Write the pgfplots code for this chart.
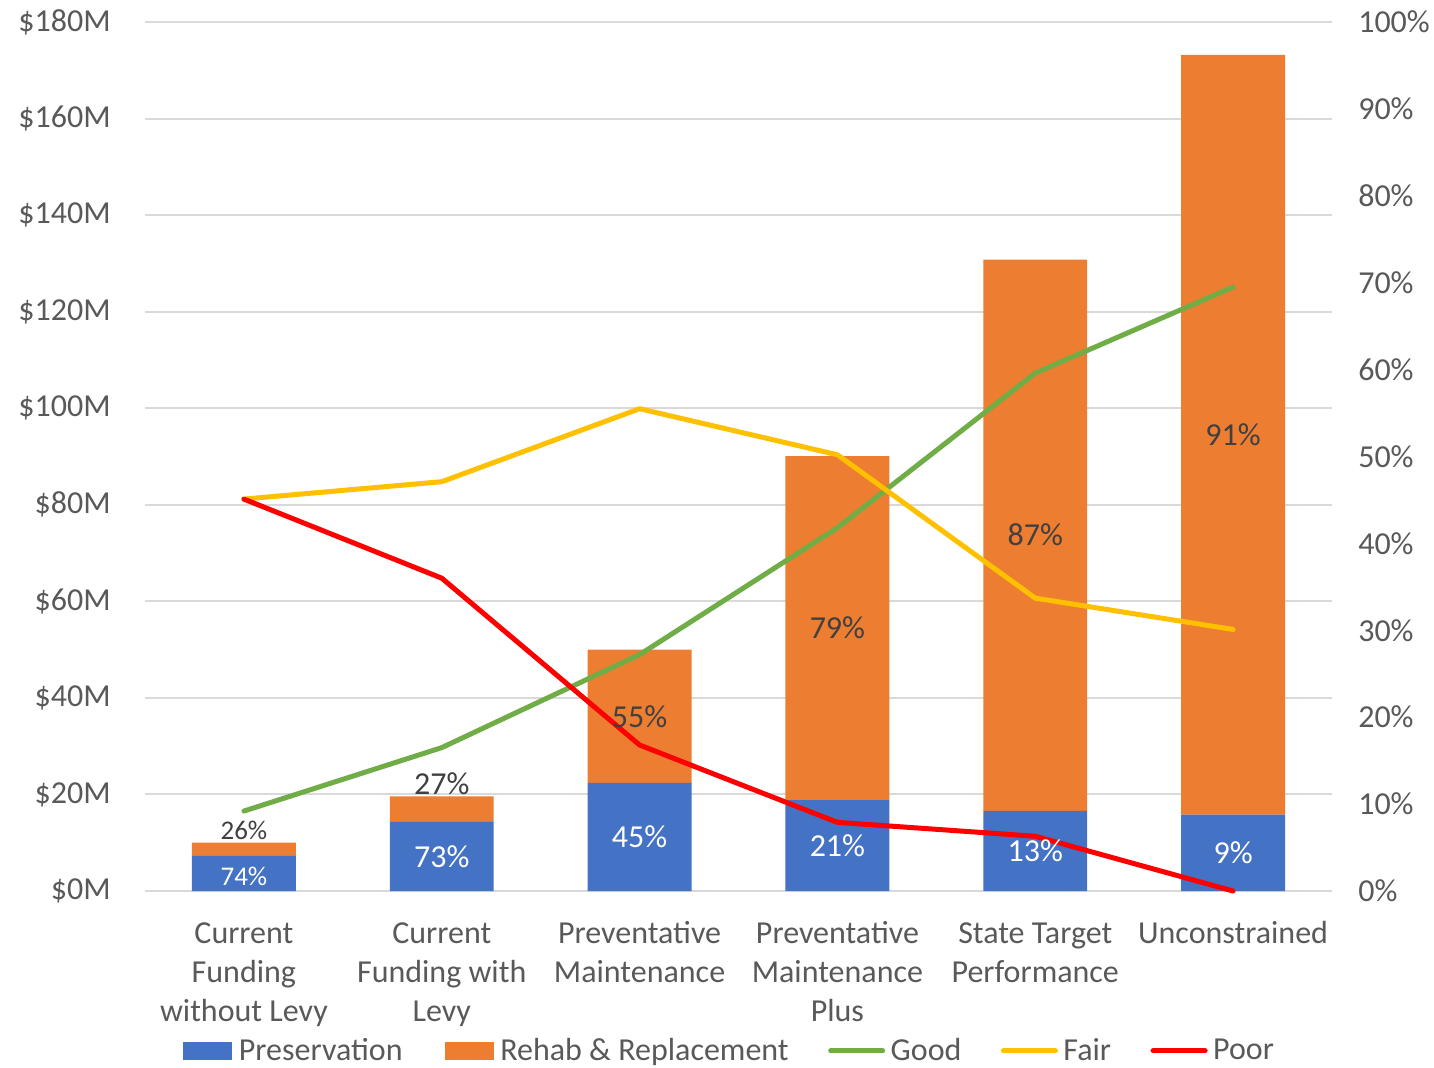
\documentclass[border=0pt]{standalone}
\usepackage{pgfplots}
\usepackage{pgfplotstable}
\pgfplotsset{compat=1.18}
\usepackage{fontspec}
\setmainfont{Carlito}
\definecolor{pres}{HTML}{4472C4}
\definecolor{rehab}{HTML}{ED7D31}
\definecolor{good}{HTML}{70AD47}
\definecolor{fair}{HTML}{FFC000}
\definecolor{poor}{HTML}{FF0000}
\definecolor{tickc}{HTML}{595959}
\definecolor{labc}{HTML}{404040}
\definecolor{gridc}{HTML}{D9D9D9}

\pgfplotstableread{
x pres rehab
0 7.4 2.6
1 14.3 5.3
2 22.4 27.6
3 18.8 71.3
4 16.6 114.2
5 15.8 157.4
}\bars

\pgfplotstableread{
x good fair poor
0 9.2 45.1 45.1
1 16.5 47.1 36.0
2 27.2 55.5 16.8
3 41.8 50.2 7.9
4 59.6 33.7 6.3
5 69.5 30.1 0
}\cond

\pgfplotstableread{
x y v
1 7.15 73
2 11.2 45
3 9.4 21
4 8.3 13
5 7.9 9
}\whitelabs

\pgfplotstableread{
x y v
1 22.2 27
2 36.2 55
3 54.45 79
4 73.7 87
5 94.5 91
}\darklabs

\pgfplotstableread{
x y v
0 3.0 74
}\smallwhite

\pgfplotstableread{
x y v
0 12.6 26
}\smalldark

\newcommand{\fs}{\fontsize{16}{19.5}\selectfont}

\pgfplotsset{
  common/.style={
    scale only axis, width=593.5pt, height=434.5pt,
    at={(0pt,0pt)}, anchor=south west,
    xmin=-0.5, xmax=5.5,
    /pgf/number format/assume math mode=true,
    major tick length=0pt,
    axis line style={draw=none},
    tick label style={font=\fs, text=tickc},
  },
}

\begin{document}
\begin{tikzpicture}
\useasboundingbox (-72.5pt,-88pt) rectangle (644.5pt,445.5pt);

% Bars
\begin{axis}[common,
  ybar stacked, bar width=0.525,
  ymin=0, ymax=180, ytick={0,20,...,180},
  yticklabel={\$\pgfmathprintnumber{\tick}M},
  y tick label style={anchor=east, xshift=-13.6pt},
  ymajorgrids, grid style={gridc, line width=1pt},
  xtick={0,...,5},
  xticklabels={{\strut Current\\Funding\\without Levy},{\strut Current\\Funding with\\Levy},{\strut Preventative\\Maintenance},{\strut Preventative\\Maintenance\\Plus},{\strut State Target\\Performance},{\strut Unconstrained}},
  x tick label style={align=center, anchor=north, yshift=-9pt},
]
\addplot[fill=pres, draw=none] table[x=x, y=pres] {\bars};
\addplot[fill=rehab, draw=none] table[x=x, y=rehab] {\bars};
\end{axis}

% Lines
\begin{axis}[common,
  axis y line*=right, axis x line=none,
  ymin=0, ymax=100, ytick={0,10,...,100},
  yticklabel={\pgfmathprintnumber{\tick}\%},
  y tick label style={anchor=west, xshift=9.6pt},
  clip=false,
  legend columns=5,
  legend style={at={(0.4916,-0.1841)}, anchor=center, draw=none, fill=none,
    font=\fs, text=tickc,
    nodes={inner sep=0pt},
    /tikz/every odd column/.append style={column sep=1.5pt},
    /tikz/every even column/.append style={column sep=18.5pt}},
  legend cell align=left,
  legend image code/.code={\draw[#1] (1.25pt,0pt) -- (27.25pt,0pt);\path (0pt,0pt) (28.5pt,0pt);},
]
\addlegendimage{legend image code/.code={\fill[pres] (0pt,-4.25pt) rectangle (24pt,4.25pt);\path (26pt,0pt);}}
\addlegendentry{Preservation}
\addlegendimage{legend image code/.code={\fill[rehab] (0pt,-4.25pt) rectangle (24pt,4.25pt);\path (-2.5pt,0pt) (26pt,0pt);}}
\addlegendentry{Rehab \& Replacement}
\addplot[good, line width=2.5pt, line join=round, line cap=round] table[x=x, y=good] {\cond};
\addlegendentry{Good}
\addplot[fair, line width=2.5pt, line join=round, line cap=round] table[x=x, y=fair] {\cond};
\addlegendentry{Fair}
\addplot[poor, line width=2.5pt, line join=round, line cap=round] table[x=x, y=poor] {\cond};
\addlegendentry{Poor}
\end{axis}

% Data labels
\begin{axis}[common, hide axis, ymin=0, ymax=180, clip=false]
\addplot[draw=none, mark=none, point meta=explicit,
  nodes near coords={\pgfmathprintnumber{\pgfplotspointmeta}\%},
  every node near coord/.append style={anchor=center, inner sep=0pt, text=white, font=\fs}]
  table[x=x, y=y, meta=v] {\whitelabs};
\addplot[draw=none, mark=none, point meta=explicit,
  nodes near coords={\pgfmathprintnumber{\pgfplotspointmeta}\%},
  every node near coord/.append style={anchor=center, inner sep=0pt, text=labc, font=\fs}]
  table[x=x, y=y, meta=v] {\darklabs};
\addplot[draw=none, mark=none, point meta=explicit,
  nodes near coords={\pgfmathprintnumber{\pgfplotspointmeta}\%},
  every node near coord/.append style={anchor=center, inner sep=0pt, text=white, font=\fontsize{13.5}{15}\selectfont}]
  table[x=x, y=y, meta=v] {\smallwhite};
\addplot[draw=none, mark=none, point meta=explicit,
  nodes near coords={\pgfmathprintnumber{\pgfplotspointmeta}\%},
  every node near coord/.append style={anchor=center, inner sep=0pt, text=labc, font=\fontsize{13.5}{15}\selectfont}]
  table[x=x, y=y, meta=v] {\smalldark};
\end{axis}
\end{tikzpicture}
\end{document}
